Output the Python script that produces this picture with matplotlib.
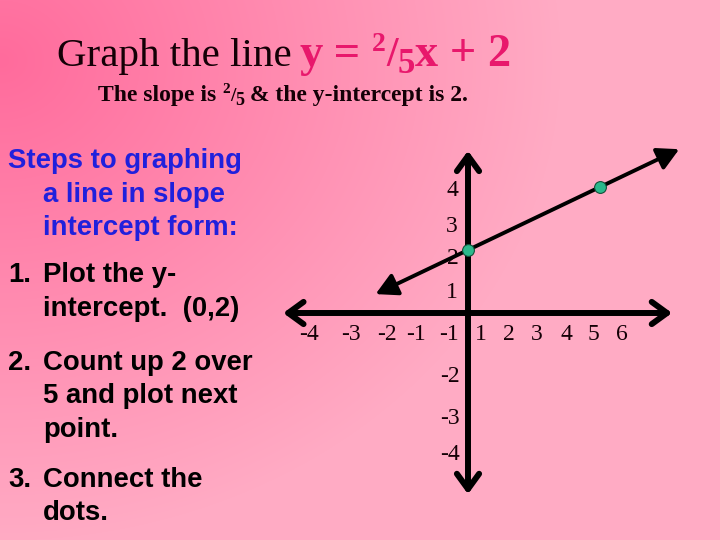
import numpy as np
import matplotlib
matplotlib.use("Agg")
import matplotlib.pyplot as plt

# ---------------- data ----------------
slope_num, slope_den = 2, 5
intercept = 2
point_x = [0, 5]
point_y = [2, 4]
line_x_ends = [-3.5, 8.0]
x_tick_labels = ["-4", "-3", "-2", "-1", "-1", "1", "2", "3", "4", "5", "6"]
y_tick_labels = ["4", "3", "2", "1", "-2", "-3", "-4"]
heading_lines = ["Steps to graphing", "a line in slope", "intercept form:"]
step_numbers = ["1.", "2.", "3."]
step_lines = [["Plot the y-", "intercept.  (0,2)"],
              ["Count up 2 over", "5 and plot next", "point."],
              ["Connect the", "dots."]]

# ---------------- layout (pixels) ----------------
W, H = 720, 540
x_label_px = [309, 351, 387, 416, 449, 481, 509, 537, 566, 593, 622]
x_label_py = 334
y_label_px = [452, 452, 453, 452, 450, 450, 450]
y_label_py = [190, 227, 258, 292, 377, 418, 455]
heading_base = [168, 202, 235]
step_base = [[282, 316], [370, 403, 437], [487, 520]]
origin_px, origin_py = 468, 313
px_per_x, px_per_y = 26.4, 31.5
x_axis_ext = (-7.0, 7.73)
y_axis_ext = (-5.75, 5.15)

PINK = "#e8186c"
BLUE = "#2020dc"
INK = "#140006"

fig = plt.figure(figsize=(7.2, 5.4), dpi=100)

# background gradient
bg = fig.add_axes([0, 0, 1, 1])
bg.set_xlim(0, W)
bg.set_ylim(H, 0)
bg.axis("off")
yy, xx = np.mgrid[0:H, 0:W]
t = np.clip(np.sqrt((xx / 560.0) ** 2 + ((yy - 60) / 480.0) ** 2), 0, 1)
c0 = np.array([255, 107, 156]) / 255.0
c1 = np.array([255, 171, 196]) / 255.0
img = c0[None, None, :] * (1 - t[..., None]) + c1[None, None, :] * t[..., None]
bg.imshow(img, extent=(0, W, H, 0), aspect="auto", zorder=0)

fig.canvas.draw()
renderer = fig.canvas.get_renderer()


def run(x, y, pieces):
    """pieces: (text, fontprops, dy)"""
    for txt, props, dy in pieces:
        tt = bg.text(x, y + dy, txt, ha="left", va="baseline", **props)
        ext = tt.get_window_extent(renderer)
        x += ext.width


serif = "Liberation Serif"
sans = "Liberation Sans"

# title
run(57, 66, [("Graph the line", dict(family=serif, size=29.5, color=INK), 0)])
run(299, 66, [
    ("y", dict(family=serif, size=33.5, weight="bold", color=PINK), 0),
    (" = ", dict(family=serif, size=33.5, weight="bold", color=PINK), 0),
    (str(slope_num), dict(family=serif, size=20, weight="bold", color=PINK), -15),
    ("/", dict(family=serif, size=30, weight="bold", color=PINK), 0),
    (str(slope_den), dict(family=serif, size=25, weight="bold", color=PINK), 7),
    ("x + " + str(intercept), dict(family=serif, size=33.5, weight="bold", color=PINK), 0),
])
sub = dict(family=serif, size=17, weight="bold", color=INK)
run(98, 101, [
    ("The slope is ", sub, 0),
    (str(slope_num), dict(family=serif, size=11, weight="bold", color=INK), -8),
    ("/", dict(family=serif, size=14, weight="bold", color=INK), 0),
    (str(slope_den), dict(family=serif, size=13, weight="bold", color=INK), 4),
    (" & the y-intercept is %d." % intercept, sub, 0),
])

# left column
FS = 19.8
for i, line in enumerate(heading_lines):
    bg.text(8 if i == 0 else 43, heading_base[i], line, family=sans, weight="bold",
            size=FS, color=BLUE, ha="left", va="baseline")
for num, lines, bases in zip(step_numbers, step_lines, step_base):
    bg.text(8, bases[0], num, family=sans, weight="bold", size=FS, color="black",
            ha="left", va="baseline")
    for line, b in zip(lines, bases):
        bg.text(43, b, line, family=sans, weight="bold", size=FS, color="black",
                ha="left", va="baseline")

# graph axes
ax = fig.add_axes([0, 0, 1, 1])
ax.patch.set_alpha(0)
ax.axis("off")
ax.set_xlim(-origin_px / px_per_x, (W - origin_px) / px_per_x)
ax.set_ylim((origin_py - H) / px_per_y, origin_py / px_per_y)

ax.annotate("", xy=(x_axis_ext[1], 0), xytext=(x_axis_ext[0], 0),
            arrowprops=dict(arrowstyle="<->,head_length=0.55,head_width=0.4",
                            lw=4.3, color="black", shrinkA=0, shrinkB=0,
                            mutation_scale=20))
ax.annotate("", xy=(0, y_axis_ext[1]), xytext=(0, y_axis_ext[0]),
            arrowprops=dict(arrowstyle="<->,head_length=0.55,head_width=0.4",
                            lw=4.3, color="black", shrinkA=0, shrinkB=0,
                            mutation_scale=20))

lx = np.array(line_x_ends, dtype=float)
ly = slope_num / slope_den * lx + intercept
ax.annotate("", xy=(lx[1], ly[1]), xytext=(lx[0], ly[0]),
            arrowprops=dict(arrowstyle="<|-|>,head_length=0.65,head_width=0.35",
                            lw=2.8, color="black", shrinkA=0, shrinkB=0,
                            mutation_scale=20))
ax.plot(point_x, point_y, "o", ms=8.5, mfc="#2bb88c", mec="#12503a", mew=0.8,
        zorder=6)

# tick labels
for lab, px in zip(x_tick_labels, x_label_px):
    bg.text(px, x_label_py, lab, family=serif, size=17, color=INK,
            ha="center", va="center")
for lab, px, py in zip(y_tick_labels, y_label_px, y_label_py):
    bg.text(px, py, lab, family=serif, size=17, color=INK,
            ha="center", va="center")

fig.savefig("out.png", dpi=100)
